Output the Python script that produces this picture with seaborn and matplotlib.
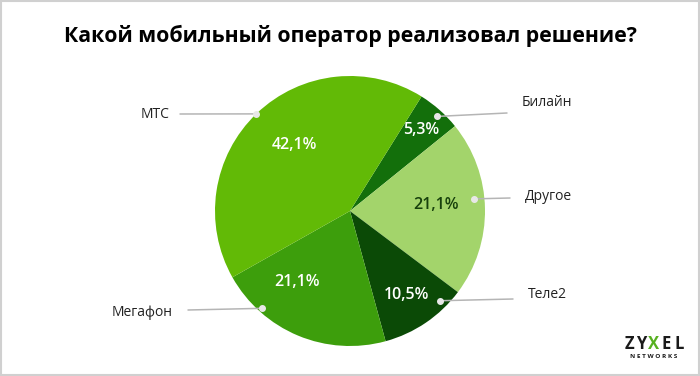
import numpy as np
import matplotlib.pyplot as plt
import seaborn as sns
from matplotlib.patches import Rectangle

operators = ["Билайн", "Другое", "Теле2", "Мегафон", "МТС"]
shares = [5.3, 21.1, 10.5, 21.1, 42.1]
colors = ["#136f0b", "#a3d46b", "#0b4a06", "#3d9e0c", "#62ba06"]
pct_colors = ["white", "#17400c", "white", "white", "white"]

sns.set_theme(style="white")
plt.rcParams["font.family"] = ["Open Sans", "DejaVu Sans"]

fig = plt.figure(figsize=(7, 3.76), dpi=100)
ax = fig.add_axes([0, 0, 1, 1])

cx, cy, R = 350, 165, 135
wedges, _ = ax.pie(shares, colors=colors, startangle=58, counterclock=False,
                   center=(cx, cy), radius=R, frame=True,
                   wedgeprops=dict(linewidth=0))
ax.set_xlim(0, 700)
ax.set_ylim(0, 376)
ax.set_aspect("equal")
ax.axis("off")

# radius fraction / angle shift for the percent labels
pct_r = [0.80, 0.64, 0.75, 0.66, 0.64]
pct_shift = [0, 3, 0, -14, -4]
for w, s, c, r, d in zip(wedges, shares, pct_colors, pct_r, pct_shift):
    a = np.deg2rad((w.theta1 + w.theta2) / 2 + d)
    ax.text(cx + r * R * np.cos(a), cy + r * R * np.sin(a),
            f"{s:.1f}%".replace(".", ","), color=c, fontsize=11.5,
            fontweight="semibold", ha="center", va="center")

# leader lines: dot (angle, radius frac), line end, text position
leaders = {
    "Билайн": ((47.5, 0.95), (507, 263), (522, 273), "left"),
    "Другое": ((5.6, 0.92), (510, 178), (525, 179), "left"),
    "Теле2": ((-45, 0.94), (513, 77), (528, 81), "left"),
    "Мегафон": ((-132, 0.97), (188, 66), (173, 64), "right"),
    "МТС": ((134, 1.0), (180, 262), (170, 262), "right"),
}
for name, ((ang, rf), (lx, ly), (tx, ty), ha) in leaders.items():
    a = np.deg2rad(ang)
    px, py = cx + rf * R * np.cos(a), cy + rf * R * np.sin(a)
    ax.plot([px, lx], [py, ly], color="#b5b5b5", lw=1.1, zorder=3)
    ax.plot(px, py, "o", ms=4, color="#e8e8e8", zorder=4)
    ax.text(tx, ty, name, fontsize=10, color="#222222", ha=ha, va="center")

fig.text(0.5, 0.905, "Какой мобильный оператор реализовал решение?",
         ha="center", va="center", fontsize=15.3, fontweight="bold", color="black")

# logo: letters centred one by one, X in green
logo_letters = ["Z", "Y", "X", "E", "L"]
logo_cols = ["#1a1a1a", "#1a1a1a", "#57b020", "#1a1a1a", "#1a1a1a"]
for i, (ch, col) in enumerate(zip(logo_letters, logo_cols)):
    ax.text(629 + 12.5 * i, 376 - 344, ch, fontsize=12, fontweight="bold",
            color=col, ha="center", va="center")
ax.text(654, 376 - 357, "N E T W O R K S", fontsize=4.6, fontweight="bold",
        color="#1a1a1a", ha="center", va="center")

fig.patches.append(Rectangle((0.001, 0.002), 0.997, 0.995, transform=fig.transFigure,
                             fill=False, edgecolor="#d0d0d0", lw=1.5))

fig.savefig("out.png", dpi=100)
